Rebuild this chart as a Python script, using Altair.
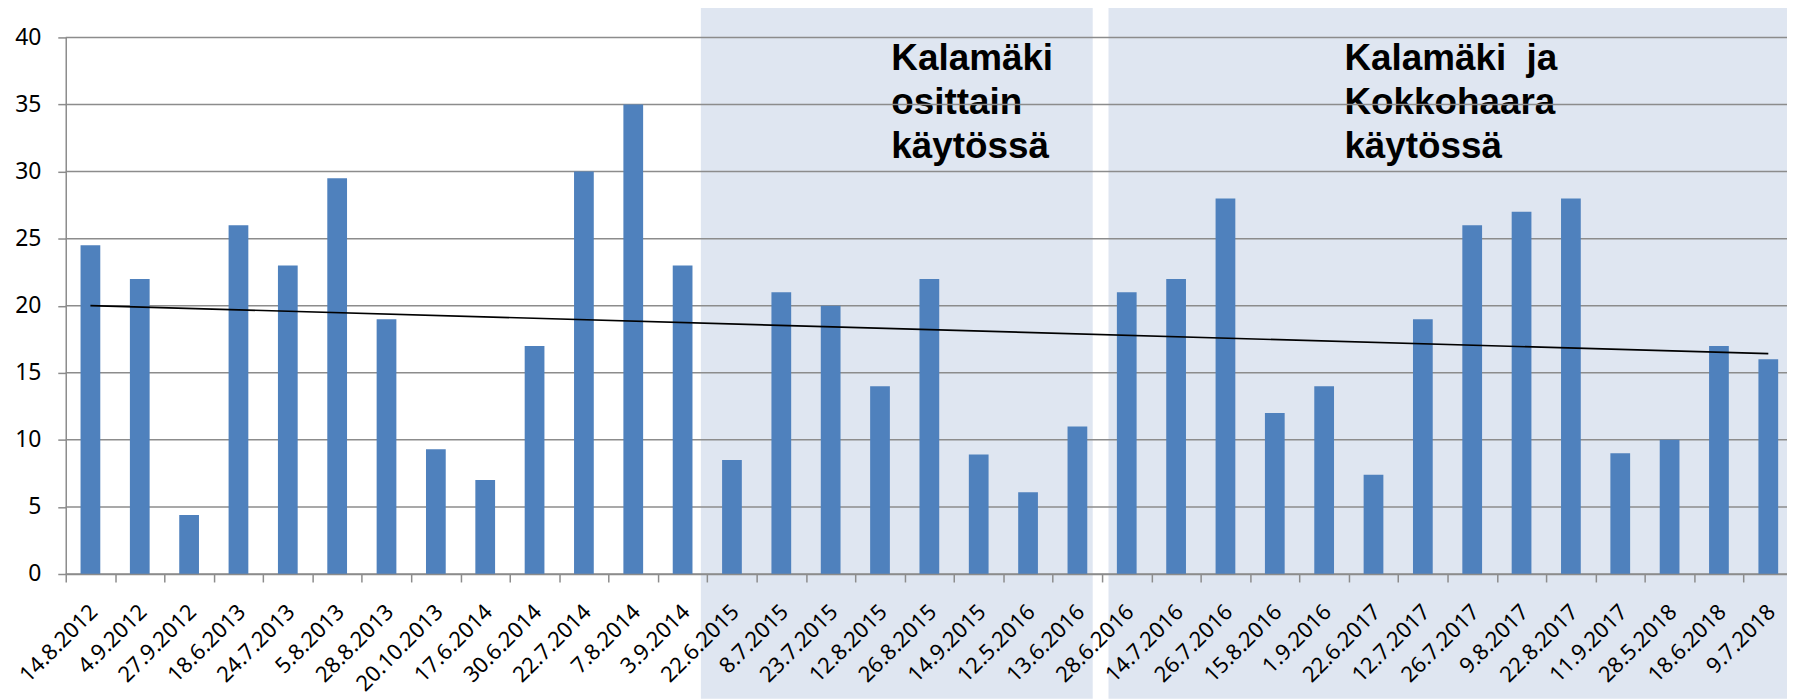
import altair as alt
import pandas as pd

# ---- data ----
categories = [
    "14.8.2012", "4.9.2012", "27.9.2012", "18.6.2013", "24.7.2013", "5.8.2013",
    "28.8.2013", "20.10.2013", "17.6.2014", "30.6.2014", "22.7.2014", "7.8.2014",
    "3.9.2014", "22.6.2015", "8.7.2015", "23.7.2015", "12.8.2015", "26.8.2015",
    "14.9.2015", "12.5.2016", "13.6.2016", "28.6.2016", "14.7.2016", "26.7.2016",
    "15.8.2016", "1.9.2016", "22.6.2017", "12.7.2017", "26.7.2017", "9.8.2017",
    "22.8.2017", "11.9.2017", "28.5.2018", "18.6.2018", "9.7.2018",
]
values = [
    24.5, 22, 4.4, 26, 23, 29.5, 19, 9.3, 7, 17, 30, 35, 23,
    8.5, 21, 20, 14, 22, 8.9, 6.1, 11,
    21, 22, 28, 12, 14, 7.4, 19, 26, 27, 28, 9, 10, 17, 16,
]
y_ticks = [0, 5, 10, 15, 20, 25, 30, 35, 40]

# shaded periods, in category-slot units (0 = left edge of first slot)
region_start = [12.87, 21.13]
region_end = [20.81, 35.0]
region_low = [-9.3, -9.3]
region_high = [42.3, 42.3]

# annotations
note_text = ["Kalamäki\nosittain\nkäytössä", "Kalamäki\u00a0\u00a0ja\nKokkohaara\nkäytössä"]
note_x = [16.73, 25.91]
note_y = [37.6, 37.6]

# ---- layout constants ----
PLOT_W = 1729
PLOT_H = 539
X_RANGE = 1735
N = len(categories)
STEP = X_RANGE / N

df = pd.DataFrame({"cat": categories, "value": values, "idx": list(range(N))})
regions = pd.DataFrame({"x0": region_start, "x1": region_end, "y0": region_low, "y1": region_high})
notes = pd.DataFrame({"t": note_text, "x": note_x, "y": note_y})
grid = pd.DataFrame({"v": y_ticks})

GRAY = "#8c8c8c"
LABEL_FONT = "Noto Sans"

yscale = alt.Scale(domain=[0, 40], nice=False, zero=True)
yaxis = alt.Axis(values=y_ticks, grid=False, title=None, tickSize=8, labelPadding=17,
                 labelFontSize=23, labelFont=LABEL_FONT, labelColor="black",
                 domainColor=GRAY, tickColor=GRAY, domainWidth=1.5, tickWidth=1.5)
qscale = alt.Scale(domain=[0, N], range=[0, X_RANGE], nice=False, zero=False)

shade = alt.Chart(regions).mark_rect(color="#dfe6f1", clip=False).encode(
    x=alt.X("x0:Q", scale=qscale, axis=None),
    x2="x1",
    y=alt.Y("y0:Q", scale=yscale, axis=yaxis),
    y2="y1",
)

text = alt.Chart(notes).mark_text(
    align="left", baseline="alphabetic", font="Liberation Sans", fontWeight="bold",
    fontSize=37, lineBreak="\n", lineHeight=44.5, color="black",
).encode(
    x=alt.X("x:Q", scale=qscale, axis=None),
    y=alt.Y("y:Q", scale=yscale, axis=yaxis),
    text="t:N",
)

rules = alt.Chart(grid).mark_rule(color=GRAY, strokeWidth=1.5).encode(
    y=alt.Y("v:Q", scale=yscale, axis=yaxis),
)

bars = alt.Chart(df).mark_bar(color="#4f81bd").encode(
    x=alt.X("cat:N", sort=categories,
            scale=alt.Scale(range=[0, X_RANGE], paddingInner=0.6, paddingOuter=0.3),
            axis=alt.Axis(title=None, labelAngle=-45, labelAlign="right", labelBaseline="middle",
                          labelPadding=26, tickSize=8, tickOffset=-STEP / 2,
                          labelOffset=STEP / 2 + 3,
                          labelOverlap=False, labelBound=False, labelFontSize=22,
                          labelFont=LABEL_FONT, labelColor="black", domainColor=GRAY,
                          tickColor=GRAY, domainWidth=1.5, tickWidth=1.5, zindex=1)),
    y=alt.Y("value:Q", scale=yscale, axis=yaxis),
)

trend = alt.Chart(df).transform_regression("idx", "value").transform_calculate(
    xc="datum.idx + 0.5"
).mark_line(color="black", strokeWidth=1.6).encode(
    x=alt.X("xc:Q", scale=qscale, axis=None),
    y=alt.Y("value:Q", scale=yscale, axis=yaxis),
)

chart = alt.layer(shade, text, rules, bars, trend).resolve_scale(
    x="independent"
).properties(
    width=PLOT_W, height=PLOT_H,
    autosize=alt.AutoSizeParams(type="none"),
    padding={"left": 58, "top": 28, "right": 0, "bottom": 124},
).configure_view(stroke=None)

chart.save("out.html", embed_options={"renderer": "svg", "actions": False})
